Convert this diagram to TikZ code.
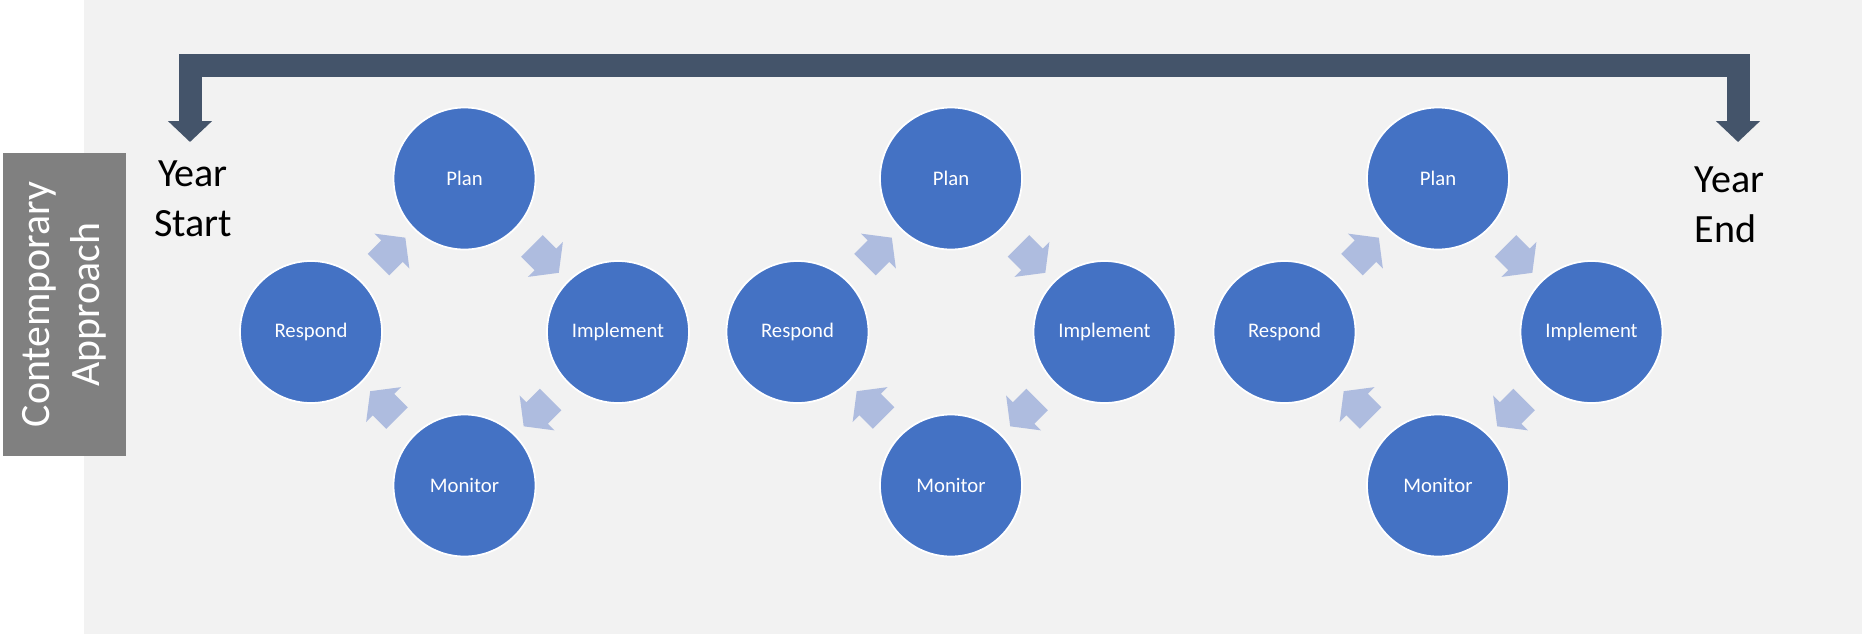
\documentclass[tikz,border=0pt]{standalone}
\usepackage{fontspec}
\setmainfont{Carlito}
\usepackage{tikz}
\usetikzlibrary{arrows.meta}
\usetikzlibrary{calc}
\usetikzlibrary{shapes.arrows}

\definecolor{bgfill}{HTML}{F2F2F2}
\definecolor{circfill}{HTML}{4472C4}
\definecolor{cyclearr}{RGB}{174,188,223}
\definecolor{slate}{HTML}{44546A}
\definecolor{labelgray}{HTML}{808080}

\begin{document}
\begin{tikzpicture}[
        stage/.style={circle, fill=circfill, draw=white, line width=.5pt, minimum size=1.42cm, inner sep=0pt, text=white, font=\fontsize{5.9}{7}\selectfont},
        turn/.style={single arrow, fill=cyclearr, minimum height=.38cm, inner xsep=0pt, inner ysep=.145cm, single arrow head extend=.095cm, single arrow tip angle=105},
        yearlabel/.style={font=\fontsize{11.4}{14.2}\selectfont, inner sep=0pt}
    ]
        \useasboundingbox (0,0) rectangle (18.62,6.34);
        \fill[bgfill] (.84,0) rectangle (18.62,6.34);

        \node[fill=labelgray, text=white, rotate=90, minimum width=3.03cm, minimum height=1.23cm, align=center, font=\fontsize{11.9}{14.2}\selectfont] (approach) at (.645,3.295) {Contemporary\\Approach};

        \node[yearlabel, align=center] (ystart) at (1.93,4.35) {Year\\Start};
        \node[yearlabel, align=left, anchor=west] (yend) at (16.94,4.29) {Year\\End};

        \coordinate (stip) at (1.90,4.92);
        \coordinate (etip) at (17.38,4.92);
        \draw[slate, line width=.23cm, {Triangle[width=.43cm,length=.21cm]}-{Triangle[width=.43cm,length=.21cm]}] (stip) -- ++(0,.77) -| (etip);

        \foreach \i/\cx in {1/4.645, 2/9.51, 3/14.38}{
            \node[stage] (plan\i) at (\cx,4.555) {Plan};
            \node[stage] (impl\i) at (\cx+1.535,3.02) {Implement};
            \node[stage] (mon\i) at (\cx,1.485) {Monitor};
            \node[stage] (resp\i) at (\cx-1.535,3.02) {Respond};
            \foreach \a/\b/\r in {resp/plan/45, plan/impl/-45, impl/mon/-135, mon/resp/135}{
                \node[turn, rotate=\r] (\a\b\i) at ($(\a\i)!.5!(\b\i)$) {};
            }
        }
\end{tikzpicture}
\end{document}
